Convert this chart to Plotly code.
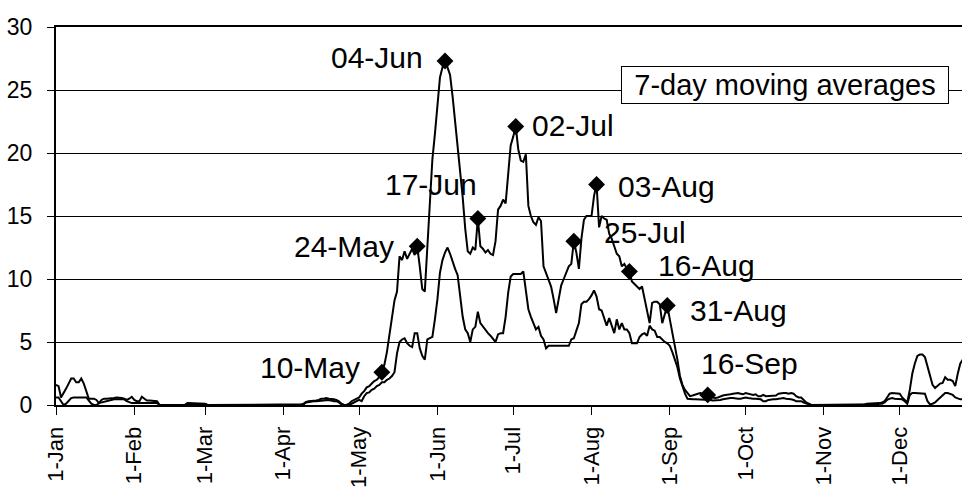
import pandas as pd
import plotly.graph_objects as go

# Daily 7-day moving averages, 1 Jan onward (one value per day)
upper = [
    # Jan
    1.6, 1.5, 0.6, 0.9, 1.3, 1.7, 2.1, 2.1, 1.8, 1.8, 2.1, 1.7, 1.0, 0.5, 0.5, 0.5,
    0.4, 0.15, 0.4, 0.5, 0.5, 0.5, 0.55, 0.55, 0.6, 0.6, 0.55, 0.5, 0.4, 0.5, 0.65,
    # Feb
    0.4, 0.3, 0.3, 0.65, 0.5, 0.35, 0.35, 0.35, 0.35, 0.3, 0.0, 0, 0, 0, 0, 0, 0, 0,
    0, 0, 0, 0.15, 0.15, 0.15, 0.15, 0.15, 0.15, 0.1,
    # Mar
    0.1, 0, 0, 0, 0, 0, 0, 0, 0, 0, 0, 0, 0, 0, 0, 0, 0, 0, 0, 0, 0, 0, 0, 0, 0, 0,
    0, 0, 0, 0, 0,
    # Apr
    0, 0, 0, 0, 0, 0, 0, 0, 0.1, 0.25, 0.3, 0.3, 0.3, 0.35, 0.4, 0.5, 0.5, 0.55, 0.5,
    0.5, 0.45, 0.4, 0.3, 0.1, 0.0, 0.0, 0.1, 0.3, 0.4, 0.5,
    # May
    0.6, 0.9, 1.1, 1.4, 1.5, 1.7, 1.9, 2.0, 2.2, 2.6, 3.2, 4.2, 5.7, 7.2, 8.3, 9.0,
    11.8, 11.5, 12.2, 11.6, 12.0, 12.4, 11.9, 12.6, 11.0, 9.2, 9.0, 12.5, 16.5, 19.5, 21.5,
    # Jun
    24.0, 26.0, 26.8, 27.3, 26.8, 26.2, 24.5, 22.5, 20.5, 19.0, 16.5, 14.0, 12.2, 12.0,
    12.5, 12.3, 14.8, 12.6, 12.4, 12.1, 12.3, 12.0, 11.9, 13.0, 15.5, 15.8, 16.3, 16.0,
    18.7, 20.6,
    # Jul
    21.3, 22.1, 20.3, 19.4, 19.3, 19.9, 15.8, 15.0, 14.5, 14.3, 14.9, 14.6, 11.0, 10.5,
    10.0, 9.4, 8.4, 7.3, 8.4, 9.5, 10.0, 10.5, 11.0, 11.2, 13.0, 12.1, 10.8, 13.2, 14.7,
    15.0, 15.0,
    # Aug
    15.0, 16.6, 17.5, 14.1, 15.0, 14.8, 14.7, 13.6, 13.2, 12.6, 12.0, 11.8, 11.0, 11.2,
    10.8, 10.6, 9.8, 9.6, 9.4, 9.2, 9.4, 8.4, 7.3, 6.5, 8.1, 8.2, 8.2, 8.0, 6.5, 7.2, 7.9,
    # Sep
    6.8, 5.8, 4.7, 3.6, 2.3, 1.6, 1.2, 0.9, 0.7, 0.75, 0.8, 0.9, 0.95, 0.9, 0.85, 0.8,
    0.7, 0.6, 0.55, 0.6, 0.7, 0.75, 0.8, 0.8, 0.85, 0.9, 0.95, 0.95, 0.9, 0.85,
    # Oct
    0.95, 0.9, 0.8, 0.8, 0.85, 0.7, 0.7, 0.8, 0.7, 0.7, 0.7, 0.7, 0.75, 0.9, 0.95, 0.95,
    0.95, 0.9, 0.95, 0.9, 0.7, 0.6, 0.6, 0.4, 0.2, 0.1, 0.0, 0, 0, 0, 0,
    # Nov
    0, 0, 0, 0, 0, 0, 0, 0, 0, 0, 0, 0, 0, 0, 0, 0, 0, 0.1, 0.1, 0.1, 0.1, 0.1, 0.15,
    0.2, 0.3, 0.6, 0.9, 0.95, 0.95, 0.95,
    # Dec
    0.9, 0.6, 0.4, 0.2, 1.2, 2.5, 3.3, 3.9, 4.0, 4.0, 3.8, 3.1, 2.2, 1.6, 1.35, 1.5,
    1.7, 1.75, 2.2, 2.0, 2.0, 1.9, 1.5, 2.5, 3.3, 3.6,
]

lower = [
    # Jan
    0.6, 0.6, 0.3, 0.0, 0.1, 0.3, 0.55, 0.6, 0.6, 0.6, 0.6, 0.6, 0.6, 0.35, 0.1, 0.0,
    0.0, 0.15, 0.2, 0.25, 0.35, 0.4, 0.45, 0.45, 0.45, 0.45, 0.45, 0.45, 0.3, 0.2, 0.15,
    # Feb
    0.15, 0.15, 0.15, 0.15, 0.15, 0.15, 0.15, 0.15, 0.15, 0.15, 0.0, 0, 0, 0, 0, 0, 0,
    0, 0, 0, 0, 0.1, 0.1, 0.1, 0.1, 0.1, 0.1, 0.05,
    # Mar
    0.05, 0, 0, 0, 0, 0, 0, 0, 0, 0, 0, 0, 0, 0, 0, 0, 0, 0, 0, 0, 0, 0, 0, 0, 0, 0,
    0, 0, 0, 0, 0,
    # Apr
    0, 0, 0, 0, 0, 0, 0, 0, 0.05, 0.2, 0.25, 0.25, 0.3, 0.3, 0.3, 0.35, 0.35, 0.4, 0.4,
    0.35, 0.3, 0.3, 0.2, 0.05, 0, 0, 0.0, 0.1, 0.2, 0.3,
    # May
    0.4, 0.3, 0.7, 0.95, 1.0, 1.2, 1.3, 1.5, 1.6, 1.8, 1.8, 2.0, 2.1, 2.3, 2.6, 4.1,
    5.0, 5.2, 5.3, 4.9, 4.7, 4.6, 5.7, 5.7, 4.5, 3.9, 3.6, 5.2, 5.3, 5.4, 6.8,
    # Jun
    8.4, 10.5, 11.5, 12.1, 12.5, 12.0, 11.3, 10.8, 10.3, 8.4, 7.0, 6.0, 5.7, 5.0, 6.0,
    6.2, 7.4, 6.5, 6.2, 6.0, 5.7, 5.5, 5.2, 5.0, 5.6, 5.7, 5.7, 7.0, 8.9, 10.2,
    # Jul
    10.4, 10.4, 10.4, 10.4, 10.6, 9.2, 7.6, 7.0, 6.5, 6.0, 6.2, 5.5, 5.2, 4.5, 4.7, 4.7,
    4.7, 4.7, 4.7, 4.7, 4.7, 4.7, 4.7, 5.2, 5.3, 5.9, 6.5, 8.0, 8.2, 8.2, 8.4,
    # Aug
    8.7, 9.1, 8.6, 7.6, 7.5, 6.8, 6.3, 6.9, 6.2, 5.7, 6.8, 6.0, 6.5, 6.0, 6.0, 5.7, 4.9,
    4.9, 4.9, 5.4, 5.6, 5.7, 5.5, 6.3, 6.0, 5.9, 5.4, 5.4, 5.2, 5.0, 4.9,
    # Sep
    4.7, 4.2, 3.6, 3.0, 2.1, 1.5, 0.9, 0.5, 0.45, 0.45, 0.45, 0.45, 0.45, 0.45, 0.45,
    0.45, 0.4, 0.35, 0.35, 0.35, 0.4, 0.45, 0.5, 0.55, 0.55, 0.55, 0.5, 0.5, 0.5, 0.55,
    # Oct
    0.6, 0.55, 0.5, 0.5, 0.5, 0.45, 0.45, 0.3, 0.3, 0.4, 0.45, 0.45, 0.45, 0.5, 0.5,
    0.55, 0.5, 0.5, 0.45, 0.4, 0.3, 0.3, 0.3, 0.2, 0.1, 0.05, 0, 0, 0, 0, 0,
    # Nov
    0, 0, 0, 0, 0, 0, 0, 0, 0, 0, 0, 0, 0, 0, 0, 0, 0, 0.05, 0.05, 0.05, 0.05, 0.05,
    0.1, 0.1, 0.2, 0.4, 0.5, 0.55, 0.5, 0.5,
    # Dec
    0.5, 0.45, 0.3, 0.1, 0.8, 0.95, 0.95, 0.95, 0.95, 0.95, 0.9, 0.3, 0.05, 0.1, 0.2,
    0.4, 0.6, 0.8, 0.95, 0.95, 0.9, 0.8, 0.6, 0.5, 0.45, 0.45,
]

assert len(upper) == len(lower) == 360

# Labelled peaks on the upper series
peak_dates = ["2001-05-10", "2001-05-24", "2001-06-04", "2001-06-17", "2001-07-02",
              "2001-07-25", "2001-08-03", "2001-08-16", "2001-08-31", "2001-09-16"]
peak_labels = ["10-May", "24-May", "04-Jun", "17-Jun", "02-Jul",
               "25-Jul", "03-Aug", "16-Aug", "31-Aug", "16-Sep"]

month_ticks = ["1-Jan", "1-Feb", "1-Mar", "1-Apr", "1-May", "1-Jun",
               "1-Jul", "1-Aug", "1-Sep", "1-Oct", "1-Nov", "1-Dec"]

box_text = "7-day moving averages"

# Label placement: (xanchor, xshift px, yshift px)
label_place = [
    ("right", -20, 5), ("right", -21, 0), ("right", -20, 4), ("right", 1, 34),
    ("left", 14, 1), ("left", 28, 9), ("left", 19, -2), ("left", 27, 6),
    ("left", 21, -5), ("left", -9, 31),
]

days = pd.date_range("2001-01-01", periods=len(upper), freq="D")
series_upper = pd.Series(upper, index=days)
peak_x = pd.to_datetime(peak_dates)
peak_y = series_upper.loc[peak_x].tolist()
tick_x = pd.date_range("2001-01-01", periods=len(month_ticks), freq="MS")

FONT = "Liberation Sans, Arial, sans-serif"

fig = go.Figure()
fig.add_trace(go.Scatter(x=days, y=upper, mode="lines",
                         line=dict(color="black", width=2), hoverinfo="skip"))
fig.add_trace(go.Scatter(x=days, y=lower, mode="lines",
                         line=dict(color="black", width=2), hoverinfo="skip"))
fig.add_trace(go.Scatter(x=peak_x, y=peak_y, mode="markers",
                         marker=dict(symbol="diamond", size=13, color="black"),
                         hoverinfo="skip"))

for px_, py_, lab, (anchor, xs, ys) in zip(peak_x, peak_y, peak_labels, label_place):
    fig.add_annotation(x=px_, y=py_, text=lab, showarrow=False,
                       xanchor=anchor, yanchor="middle", xshift=xs, yshift=ys,
                       font=dict(family=FONT, size=30, color="black"))

fig.add_annotation(xref="paper", yref="paper", x=0.805, y=0.846, text=box_text,
                   showarrow=False, xanchor="center", yanchor="middle",
                   width=326, height=36, borderpad=0, borderwidth=1,
                   bordercolor="black", bgcolor="white",
                   font=dict(family=FONT, size=29, color="black"))

fig.update_layout(
    width=962, height=492,
    margin=dict(l=56, r=0, t=27, b=87),
    paper_bgcolor="white", plot_bgcolor="white",
    showlegend=False,
    font=dict(family=FONT, color="black"),
)
fig.update_xaxes(
    range=["2001-01-01", "2001-12-25 16:00"],
    tickmode="array", tickvals=tick_x, ticktext=month_ticks, tickangle=-90,
    tickfont=dict(size=22), ticks="outside", ticklen=8, tickcolor="black",
    ticklabelstandoff=3,
    showline=True, linecolor="black", linewidth=2, mirror=True,
    showgrid=False, zeroline=False, automargin=False,
)
fig.update_yaxes(
    range=[0, 30], dtick=5, tickfont=dict(size=23),
    ticks="outside", ticklen=7, tickcolor="black", ticklabelstandoff=10,
    showline=True, linecolor="black", linewidth=2,
    showgrid=True, gridcolor="black", gridwidth=1,
    zeroline=False, automargin=False,
)

fig.write_html("out.html")
